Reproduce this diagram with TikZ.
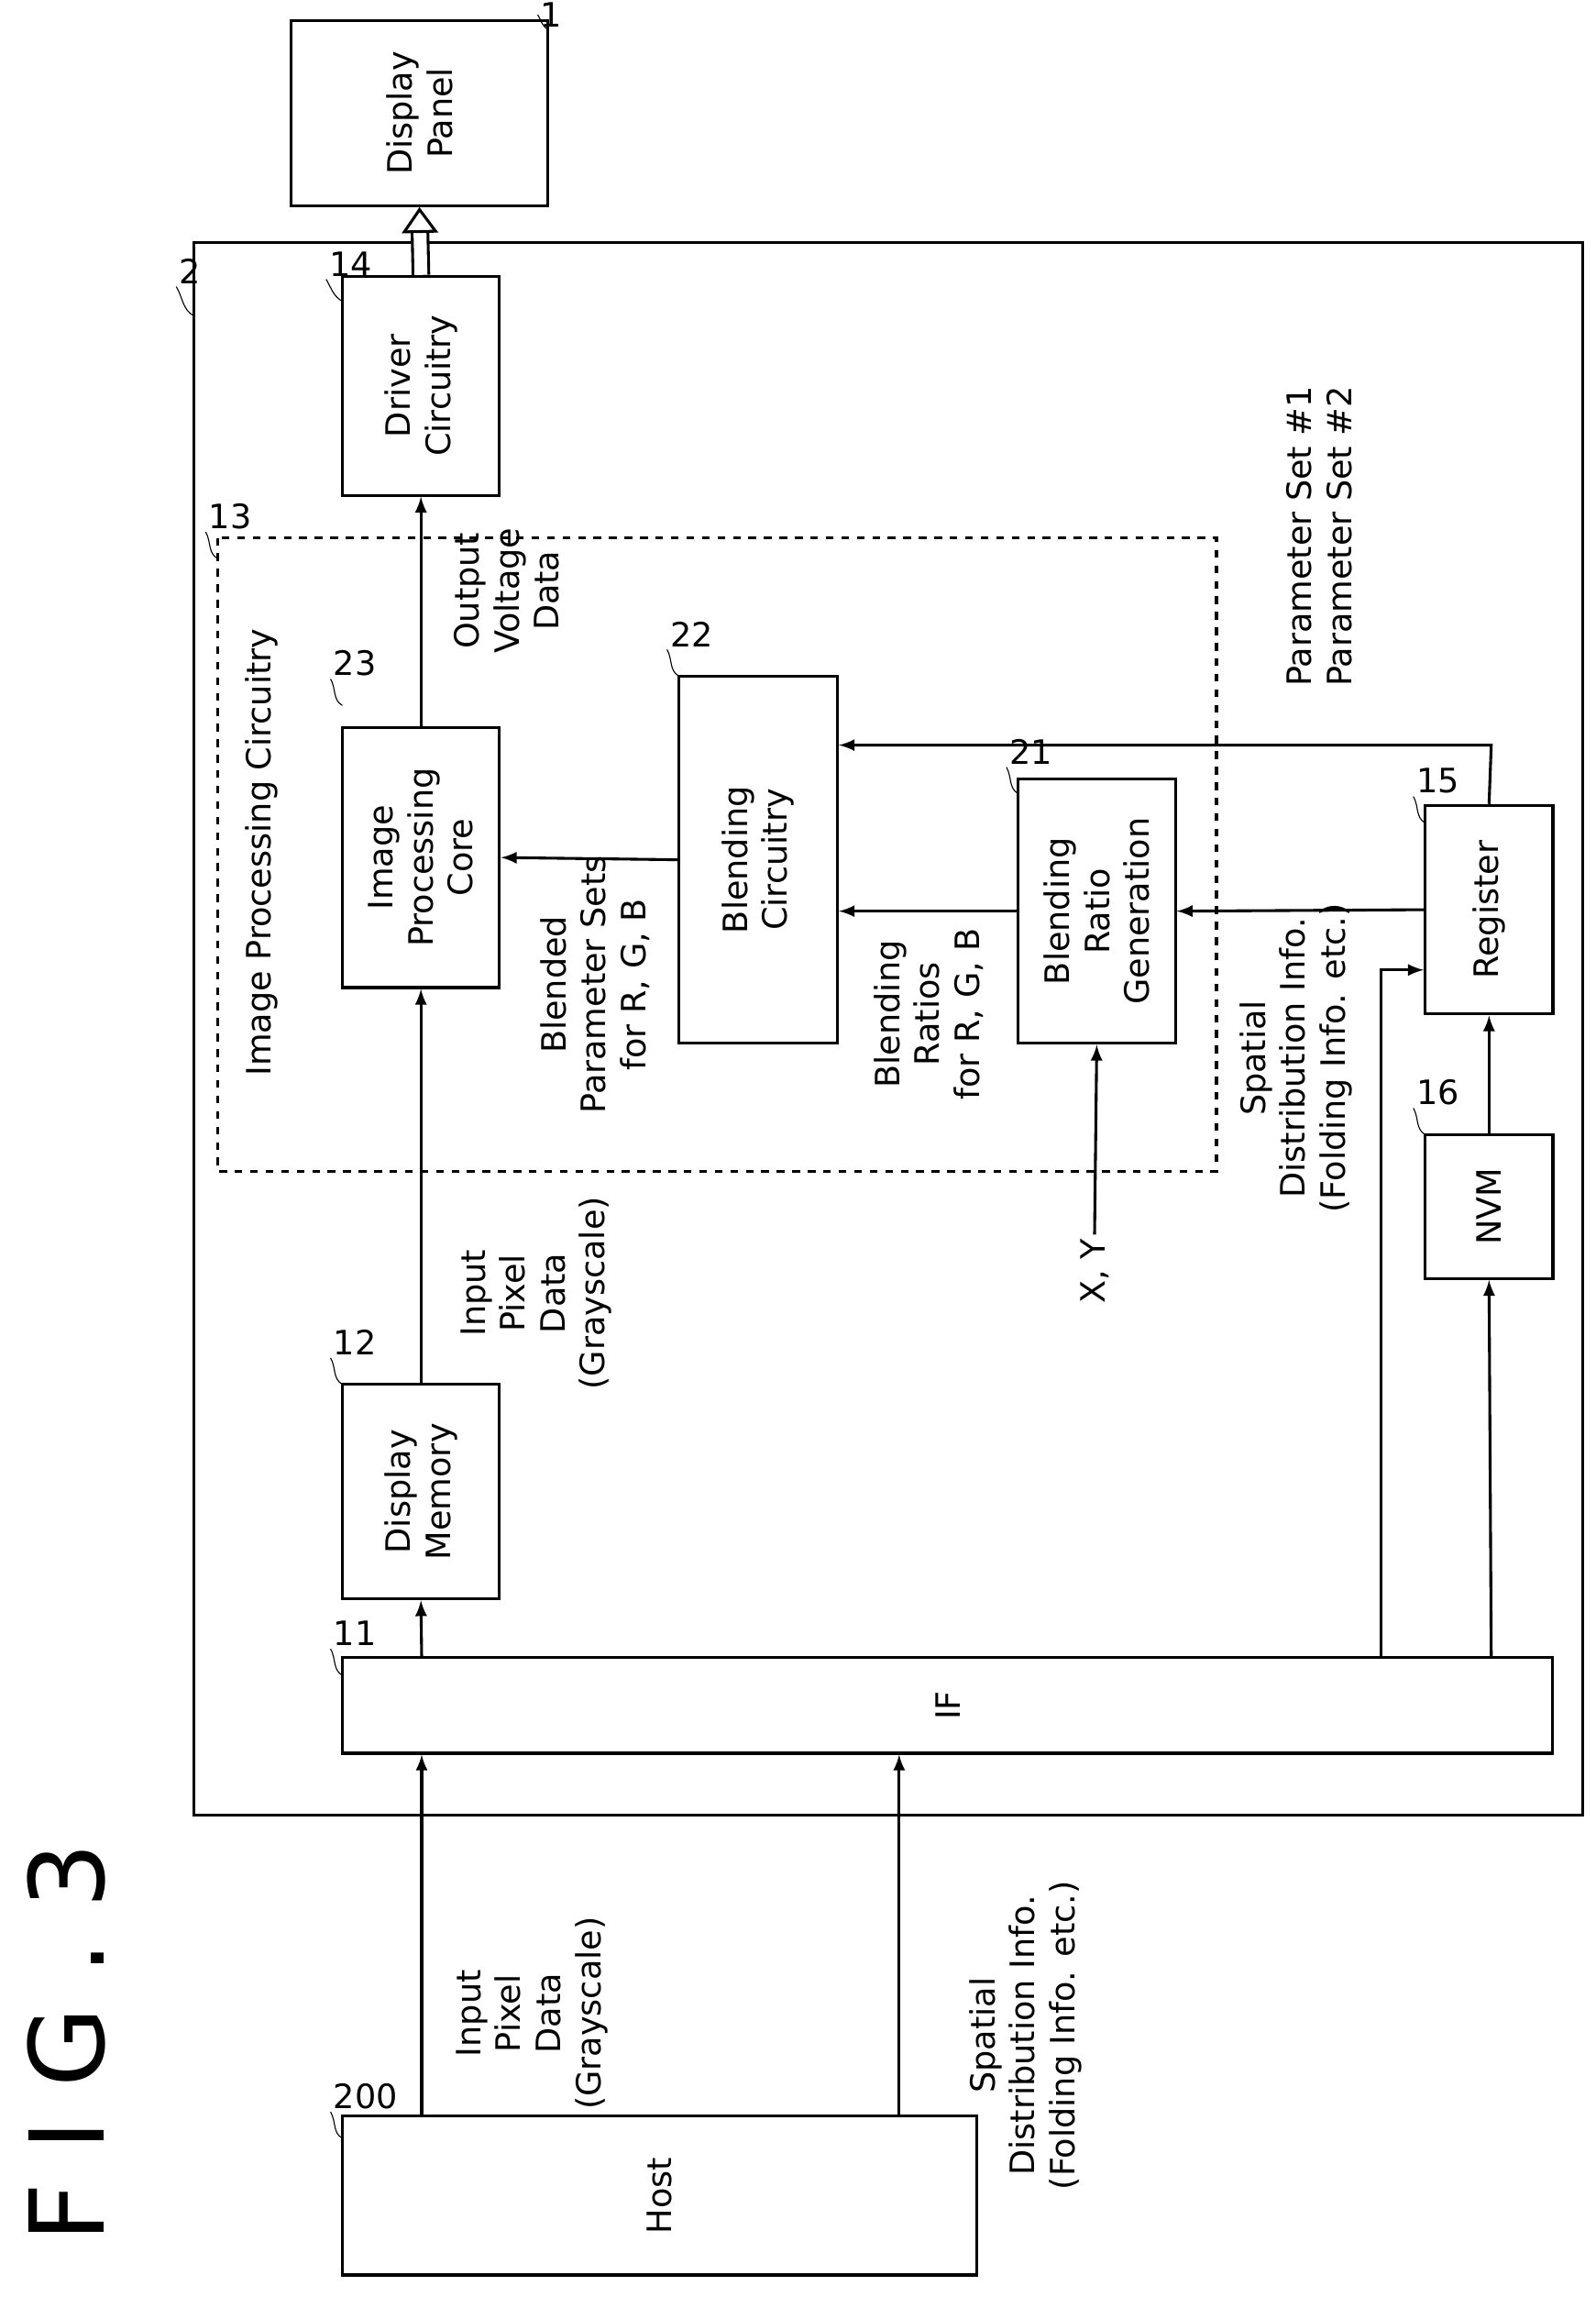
\documentclass[tikz,border=0pt]{standalone}
\usepackage{fontspec}
\setmainfont{DejaVu Sans}
\usetikzlibrary{arrows.meta}
\begin{document}
\begin{tikzpicture}[x=0.02cm,y=-0.02cm,font=\fontsize{13}{15.5}\selectfont, line width=1.1pt]
\tikzstyle{box}=[draw=black, rotate=90, inner sep=0pt, align=center]
\tikzstyle{lab}=[rotate=90, align=center, inner sep=1pt]
\tikzstyle{num}=[inner sep=1pt]
\useasboundingbox (0,0) rectangle (1086,1563);
% outer blocks
\draw (132,165) rectangle (1077,1235);
\draw[dashed] (148,366) rectangle (828,797);
\node[lab] (ipc) at (178,580) {Image Processing Circuitry};
\node[box, minimum width=2.52cm, minimum height=3.5cm] (panel) at (285.5,77) {Display\\Panel};
\node[box, minimum width=2.98cm, minimum height=2.14cm] (driver) at (286.5,262.5) {Driver\\Circuitry};
\node[box, minimum width=3.54cm, minimum height=2.14cm] (core) at (286.5,583.5) {Image\\Processing\\Core};
\node[box, minimum width=5cm, minimum height=2.16cm] (blend) at (516,585) {Blending\\Circuitry};
\node[box, minimum width=3.6cm, minimum height=2.14cm] (ratio) at (746.5,620) {Blending\\Ratio\\Generation};
\node[box, minimum width=2.84cm, minimum height=1.74cm] (reg) at (1013.5,619) {Register};
\node[box, minimum width=1.96cm, minimum height=1.74cm] (nvm) at (1013.5,821) {NVM};
\node[box, minimum width=2.92cm, minimum height=2.14cm] (mem) at (286.5,1015) {Display\\Memory};
\node[box, minimum width=1.3cm, minimum height=16.48cm] (if) at (645,1160.5) {IF};
\node[box, minimum width=2.16cm, minimum height=8.64cm] (host) at (449,1494) {Host};
\node[lab, font=\fontsize{40}{40}\selectfont] (fig) at (45,1390) {F I G . 3};
% reference numbers
\draw[thin] (373,20) to[out=150,in=-60] (366,10) node[num, anchor=west] (n1) {1};
\draw[thin] (132,215) to[out=150,in=-60] (120,195) node[num, anchor=south west] (n2) {2};
\draw[thin] (233,205) to[out=150,in=-60] (222,190) node[num, anchor=south west] (n14) {14};
\draw[thin] (148,380) to[out=150,in=-60] (140,362) node[num, anchor=south west] (n13) {13};
\draw[thin] (233,480) to[out=150,in=-60] (225,462) node[num, anchor=south west] (n23) {23};
\draw[thin] (462,460) to[out=150,in=-60] (454,442) node[num, anchor=south west] (n22) {22};
\draw[thin] (693,540) to[out=150,in=-60] (685,522) node[num, anchor=south west] (n21) {21};
\draw[thin] (970,560) to[out=150,in=-60] (962,542) node[num, anchor=south west] (n15) {15};
\draw[thin] (970,772) to[out=150,in=-60] (962,754) node[num, anchor=south west] (n16) {16};
\draw[thin] (233,942) to[out=150,in=-60] (225,924) node[num, anchor=south west] (n12) {12};
\draw[thin] (233,1140) to[out=150,in=-60] (225,1122) node[num, anchor=south west] (n11) {11};
\draw[thin] (233,1455) to[out=150,in=-60] (225,1437) node[num, anchor=south west] (n200) {200};
% connectors
\draw[double distance=5pt, -{Triangle[open, length=10pt, width=14pt]}] (driver.east) -- (panel.west);
\draw[-latex] (287,0 |- host.east) -- (287,0 |- if.west);
\draw[-latex] (612,0 |- host.east) -- (612,0 |- if.west);
\draw[-latex] (287,0 |- if.east) -- (mem.west);
\draw[-latex] (mem.east) -- (core.west);
\draw[-latex] (core.east) -- (driver.west);
\draw[-latex] (blend.north) -- (core.south);
\draw[-latex] (ratio.north) -- (0,620 -| blend.south);
\draw[-latex] (reg.east) -- (1015,507) -- (0,507 -| blend.south);
\draw[-latex] (reg.north) -- (ratio.south);
\coordinate (xy) at (745,840);
\draw[-latex] (xy) -- (ratio.west);
\draw[-latex] (940,0 |- if.east) -- (940,660) -- (0,660 -| reg.north);
\draw[-latex] (1015,0 |- if.east) -- (nvm.west);
\draw[-latex] (nvm.east) -- (reg.west);
% connector labels
\node[lab] (t1) at (362,1370) {Input\\Pixel\\Data\\(Grayscale)};
\node[lab] (t2) at (698,1385) {Spatial\\Distribution Info.\\(Folding Info. etc.)};
\node[lab] (t3) at (365,880) {Input\\Pixel\\Data\\(Grayscale)};
\node[lab] (t4) at (345,402) {Output\\Voltage\\Data};
\node[lab] (t5) at (405,670) {Blended\\Parameter Sets\\for R, G, B};
\node[lab] (t6) at (632,690) {Blending\\Ratios\\for R, G, B};
\node[lab] (t7) at (898,365) {Parameter Set \#1\\Parameter Set \#2};
\node[lab, anchor=east] (t8) at (xy) {X, Y};
\node[lab] (t9) at (882,720) {Spatial\\Distribution Info.\\(Folding Info. etc.)};
\end{tikzpicture}
\end{document}
